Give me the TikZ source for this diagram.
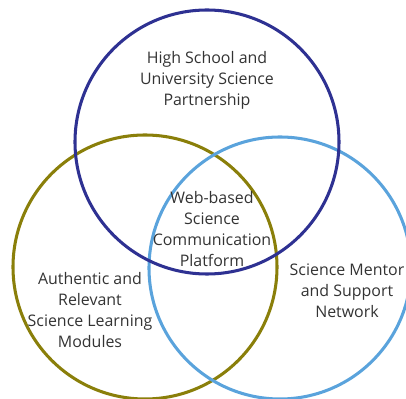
\documentclass[tikz,border=0pt]{standalone}
\usepackage{fontspec}
\setmainfont{Open Sans}
\usepackage{xcolor}
\usepackage{tikz}
\usetikzlibrary{positioning}
\definecolor{partnerblue}{HTML}{2E3192}
\definecolor{moduleolive}{HTML}{8A7F0A}
\definecolor{mentorblue}{HTML}{5AA3DC}
\definecolor{labelgray}{HTML}{333333}

\begin{document}
\begin{tikzpicture}[
  x=0.03cm, y=-0.03cm,
  font=\fontsize{13.6}{18}\selectfont,
  ring/.style={line width=2.6pt},
  label/.style={
    text=labelgray, align=center, inner sep=0pt
  },
]
\useasboundingbox (0,0) rectangle (406,399);

% the three circles
\draw[ring, moduleolive] (145,267) circle (132);
\draw[ring, mentorblue] (280,268) circle (131);
\draw[ring, partnerblue] (207,142) circle (132);

% circle labels
\node[label] (partner) at (207,80) {High School and\\University Science\\Partnership};
\node[label] (modules) at (90,310) {Authentic and\\Relevant\\Science Learning\\Modules};
\node[label] (mentor) at (347,291) {Science Mentor\\and Support\\Network};

% overlap in the middle
\node[label] (platform) at (212,229) {Web-based\\Science\\Communication\\Platform};

\end{tikzpicture}
\end{document}
